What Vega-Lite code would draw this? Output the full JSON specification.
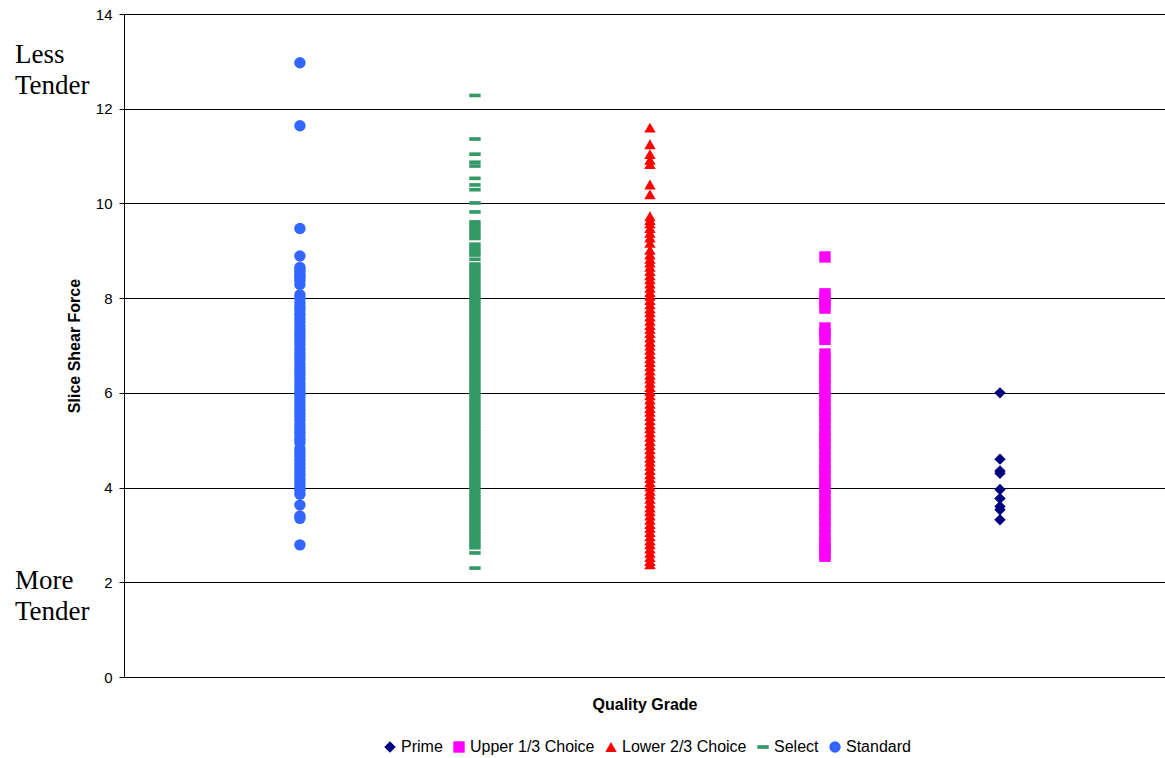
{
  "$schema": "https://vega.github.io/schema/vega-lite/v6.json",
  "width": 1041,
  "height": 663,
  "autosize": "none",
  "padding": {"left": 124, "top": 14, "right": 0, "bottom": 81},
  "background": "white",
  "config": {
    "view": {"stroke": null},
    "font": "Liberation Sans",
    "axis": {"labelFont": "Liberation Sans", "titleFont": "Liberation Sans", "domainColor": "black", "tickColor": "black", "gridColor": "black", "gridOpacity": 1, "domainWidth": 1, "gridWidth": 1},
    "legend": {"padding": 0}
  },
  "layer": [
    {
      "data": {
        "values": [
          {"g": "Prime", "v": 6.0}, {"g": "Prime", "v": 4.6}, {"g": "Prime", "v": 4.35}, {"g": "Prime", "v": 4.3}, {"g": "Prime", "v": 3.96}, {"g": "Prime", "v": 3.77}, {"g": "Prime", "v": 3.6}, {"g": "Prime", "v": 3.53}, {"g": "Prime", "v": 3.32},
          {"g": "Upper 1/3 Choice", "v": 8.87}, {"g": "Upper 1/3 Choice", "v": 8.09}, {"g": "Upper 1/3 Choice", "v": 7.99}, {"g": "Upper 1/3 Choice", "v": 7.89}, {"g": "Upper 1/3 Choice", "v": 7.79},
          {"g": "Upper 1/3 Choice", "v": 7.37}, {"g": "Upper 1/3 Choice", "v": 7.25}, {"g": "Upper 1/3 Choice", "v": 7.13},
          {"g": "Upper 1/3 Choice", "v": 6.82}, {"g": "Upper 1/3 Choice", "v": 6.7}, {"g": "Upper 1/3 Choice", "v": 6.57}, {"g": "Upper 1/3 Choice", "v": 6.44}, {"g": "Upper 1/3 Choice", "v": 6.3}, {"g": "Upper 1/3 Choice", "v": 6.17}, {"g": "Upper 1/3 Choice", "v": 6.03}, {"g": "Upper 1/3 Choice", "v": 5.9}, {"g": "Upper 1/3 Choice", "v": 5.75}, {"g": "Upper 1/3 Choice", "v": 5.62}, {"g": "Upper 1/3 Choice", "v": 5.48}, {"g": "Upper 1/3 Choice", "v": 5.35}, {"g": "Upper 1/3 Choice", "v": 5.2}, {"g": "Upper 1/3 Choice", "v": 5.07}, {"g": "Upper 1/3 Choice", "v": 4.93}, {"g": "Upper 1/3 Choice", "v": 4.8}, {"g": "Upper 1/3 Choice", "v": 4.65}, {"g": "Upper 1/3 Choice", "v": 4.52}, {"g": "Upper 1/3 Choice", "v": 4.38}, {"g": "Upper 1/3 Choice", "v": 4.25}, {"g": "Upper 1/3 Choice", "v": 4.1}, {"g": "Upper 1/3 Choice", "v": 3.97}, {"g": "Upper 1/3 Choice", "v": 3.83}, {"g": "Upper 1/3 Choice", "v": 3.7}, {"g": "Upper 1/3 Choice", "v": 3.55}, {"g": "Upper 1/3 Choice", "v": 3.42}, {"g": "Upper 1/3 Choice", "v": 3.28}, {"g": "Upper 1/3 Choice", "v": 3.15}, {"g": "Upper 1/3 Choice", "v": 3.0}, {"g": "Upper 1/3 Choice", "v": 2.87}, {"g": "Upper 1/3 Choice", "v": 2.73}, {"g": "Upper 1/3 Choice", "v": 2.62}, {"g": "Upper 1/3 Choice", "v": 2.55},
          {"g": "Lower 2/3 Choice", "v": 11.6}, {"g": "Lower 2/3 Choice", "v": 11.25}, {"g": "Lower 2/3 Choice", "v": 11.04}, {"g": "Lower 2/3 Choice", "v": 10.92}, {"g": "Lower 2/3 Choice", "v": 10.83}, {"g": "Lower 2/3 Choice", "v": 10.4}, {"g": "Lower 2/3 Choice", "v": 10.19}, {"g": "Lower 2/3 Choice", "v": 9.73}, {"g": "Lower 2/3 Choice", "v": 9.65}, {"g": "Lower 2/3 Choice", "v": 9.58}, {"g": "Lower 2/3 Choice", "v": 9.48}, {"g": "Lower 2/3 Choice", "v": 9.38}, {"g": "Lower 2/3 Choice", "v": 9.28}, {"g": "Lower 2/3 Choice", "v": 9.17}, {"g": "Lower 2/3 Choice", "v": 9.02},
          {"g": "Lower 2/3 Choice", "v": 8.92}, {"g": "Lower 2/3 Choice", "v": 8.83}, {"g": "Lower 2/3 Choice", "v": 8.75}, {"g": "Lower 2/3 Choice", "v": 8.66}, {"g": "Lower 2/3 Choice", "v": 8.57}, {"g": "Lower 2/3 Choice", "v": 8.48}, {"g": "Lower 2/3 Choice", "v": 8.4}, {"g": "Lower 2/3 Choice", "v": 8.31}, {"g": "Lower 2/3 Choice", "v": 8.22}, {"g": "Lower 2/3 Choice", "v": 8.13}, {"g": "Lower 2/3 Choice", "v": 8.05}, {"g": "Lower 2/3 Choice", "v": 7.96}, {"g": "Lower 2/3 Choice", "v": 7.87}, {"g": "Lower 2/3 Choice", "v": 7.78}, {"g": "Lower 2/3 Choice", "v": 7.7}, {"g": "Lower 2/3 Choice", "v": 7.61}, {"g": "Lower 2/3 Choice", "v": 7.52}, {"g": "Lower 2/3 Choice", "v": 7.43}, {"g": "Lower 2/3 Choice", "v": 7.35}, {"g": "Lower 2/3 Choice", "v": 7.26}, {"g": "Lower 2/3 Choice", "v": 7.17}, {"g": "Lower 2/3 Choice", "v": 7.08}, {"g": "Lower 2/3 Choice", "v": 7.0}, {"g": "Lower 2/3 Choice", "v": 6.91}, {"g": "Lower 2/3 Choice", "v": 6.82}, {"g": "Lower 2/3 Choice", "v": 6.73}, {"g": "Lower 2/3 Choice", "v": 6.65}, {"g": "Lower 2/3 Choice", "v": 6.56}, {"g": "Lower 2/3 Choice", "v": 6.47}, {"g": "Lower 2/3 Choice", "v": 6.38}, {"g": "Lower 2/3 Choice", "v": 6.3}, {"g": "Lower 2/3 Choice", "v": 6.21}, {"g": "Lower 2/3 Choice", "v": 6.12}, {"g": "Lower 2/3 Choice", "v": 6.03}, {"g": "Lower 2/3 Choice", "v": 5.95}, {"g": "Lower 2/3 Choice", "v": 5.86}, {"g": "Lower 2/3 Choice", "v": 5.77}, {"g": "Lower 2/3 Choice", "v": 5.68}, {"g": "Lower 2/3 Choice", "v": 5.6}, {"g": "Lower 2/3 Choice", "v": 5.51}, {"g": "Lower 2/3 Choice", "v": 5.42}, {"g": "Lower 2/3 Choice", "v": 5.33}, {"g": "Lower 2/3 Choice", "v": 5.25}, {"g": "Lower 2/3 Choice", "v": 5.16}, {"g": "Lower 2/3 Choice", "v": 5.07}, {"g": "Lower 2/3 Choice", "v": 4.98}, {"g": "Lower 2/3 Choice", "v": 4.9}, {"g": "Lower 2/3 Choice", "v": 4.81}, {"g": "Lower 2/3 Choice", "v": 4.72}, {"g": "Lower 2/3 Choice", "v": 4.63}, {"g": "Lower 2/3 Choice", "v": 4.55}, {"g": "Lower 2/3 Choice", "v": 4.46}, {"g": "Lower 2/3 Choice", "v": 4.37}, {"g": "Lower 2/3 Choice", "v": 4.28}, {"g": "Lower 2/3 Choice", "v": 4.2}, {"g": "Lower 2/3 Choice", "v": 4.11}, {"g": "Lower 2/3 Choice", "v": 4.02}, {"g": "Lower 2/3 Choice", "v": 3.93}, {"g": "Lower 2/3 Choice", "v": 3.85}, {"g": "Lower 2/3 Choice", "v": 3.76}, {"g": "Lower 2/3 Choice", "v": 3.67}, {"g": "Lower 2/3 Choice", "v": 3.58}, {"g": "Lower 2/3 Choice", "v": 3.5}, {"g": "Lower 2/3 Choice", "v": 3.41}, {"g": "Lower 2/3 Choice", "v": 3.32}, {"g": "Lower 2/3 Choice", "v": 3.23}, {"g": "Lower 2/3 Choice", "v": 3.15}, {"g": "Lower 2/3 Choice", "v": 3.06}, {"g": "Lower 2/3 Choice", "v": 2.97}, {"g": "Lower 2/3 Choice", "v": 2.88}, {"g": "Lower 2/3 Choice", "v": 2.8}, {"g": "Lower 2/3 Choice", "v": 2.71}, {"g": "Lower 2/3 Choice", "v": 2.62}, {"g": "Lower 2/3 Choice", "v": 2.53}, {"g": "Lower 2/3 Choice", "v": 2.45}, {"g": "Lower 2/3 Choice", "v": 2.38},
          {"g": "Select", "v": 12.28}, {"g": "Select", "v": 11.36}, {"g": "Select", "v": 11.04}, {"g": "Select", "v": 10.87}, {"g": "Select", "v": 10.79}, {"g": "Select", "v": 10.53}, {"g": "Select", "v": 10.39}, {"g": "Select", "v": 10.29}, {"g": "Select", "v": 10.01}, {"g": "Select", "v": 9.82},
          {"g": "Select", "v": 9.61}, {"g": "Select", "v": 9.55}, {"g": "Select", "v": 9.49}, {"g": "Select", "v": 9.43}, {"g": "Select", "v": 9.37}, {"g": "Select", "v": 9.31}, {"g": "Select", "v": 9.26},
          {"g": "Select", "v": 9.14}, {"g": "Select", "v": 9.08}, {"g": "Select", "v": 9.02}, {"g": "Select", "v": 8.96}, {"g": "Select", "v": 8.91}, {"g": "Select", "v": 8.82},
          {"g": "Select", "v": 8.72}, {"g": "Select", "v": 8.66}, {"g": "Select", "v": 8.6}, {"g": "Select", "v": 8.54}, {"g": "Select", "v": 8.48}, {"g": "Select", "v": 8.42}, {"g": "Select", "v": 8.36}, {"g": "Select", "v": 8.3}, {"g": "Select", "v": 8.24}, {"g": "Select", "v": 8.18}, {"g": "Select", "v": 8.12}, {"g": "Select", "v": 8.06}, {"g": "Select", "v": 8.0}, {"g": "Select", "v": 7.94}, {"g": "Select", "v": 7.88}, {"g": "Select", "v": 7.82}, {"g": "Select", "v": 7.76}, {"g": "Select", "v": 7.7}, {"g": "Select", "v": 7.64}, {"g": "Select", "v": 7.58}, {"g": "Select", "v": 7.52}, {"g": "Select", "v": 7.46}, {"g": "Select", "v": 7.4}, {"g": "Select", "v": 7.34}, {"g": "Select", "v": 7.28}, {"g": "Select", "v": 7.22}, {"g": "Select", "v": 7.16}, {"g": "Select", "v": 7.1}, {"g": "Select", "v": 7.04}, {"g": "Select", "v": 6.98}, {"g": "Select", "v": 6.92}, {"g": "Select", "v": 6.86}, {"g": "Select", "v": 6.8}, {"g": "Select", "v": 6.74}, {"g": "Select", "v": 6.68}, {"g": "Select", "v": 6.62}, {"g": "Select", "v": 6.56}, {"g": "Select", "v": 6.5}, {"g": "Select", "v": 6.44}, {"g": "Select", "v": 6.38}, {"g": "Select", "v": 6.32}, {"g": "Select", "v": 6.26}, {"g": "Select", "v": 6.2}, {"g": "Select", "v": 6.14}, {"g": "Select", "v": 6.08}, {"g": "Select", "v": 6.02}, {"g": "Select", "v": 5.96}, {"g": "Select", "v": 5.9}, {"g": "Select", "v": 5.84}, {"g": "Select", "v": 5.78}, {"g": "Select", "v": 5.72}, {"g": "Select", "v": 5.66}, {"g": "Select", "v": 5.6}, {"g": "Select", "v": 5.54}, {"g": "Select", "v": 5.48}, {"g": "Select", "v": 5.42}, {"g": "Select", "v": 5.36}, {"g": "Select", "v": 5.3}, {"g": "Select", "v": 5.24}, {"g": "Select", "v": 5.18}, {"g": "Select", "v": 5.12}, {"g": "Select", "v": 5.06}, {"g": "Select", "v": 5.0}, {"g": "Select", "v": 4.94}, {"g": "Select", "v": 4.88}, {"g": "Select", "v": 4.82}, {"g": "Select", "v": 4.76}, {"g": "Select", "v": 4.7}, {"g": "Select", "v": 4.64}, {"g": "Select", "v": 4.58}, {"g": "Select", "v": 4.52}, {"g": "Select", "v": 4.46}, {"g": "Select", "v": 4.4}, {"g": "Select", "v": 4.34}, {"g": "Select", "v": 4.28}, {"g": "Select", "v": 4.22}, {"g": "Select", "v": 4.16}, {"g": "Select", "v": 4.1}, {"g": "Select", "v": 4.04}, {"g": "Select", "v": 3.98}, {"g": "Select", "v": 3.92}, {"g": "Select", "v": 3.86}, {"g": "Select", "v": 3.8}, {"g": "Select", "v": 3.74}, {"g": "Select", "v": 3.68}, {"g": "Select", "v": 3.62}, {"g": "Select", "v": 3.56}, {"g": "Select", "v": 3.5}, {"g": "Select", "v": 3.44}, {"g": "Select", "v": 3.38}, {"g": "Select", "v": 3.32}, {"g": "Select", "v": 3.26}, {"g": "Select", "v": 3.2}, {"g": "Select", "v": 3.14}, {"g": "Select", "v": 3.08}, {"g": "Select", "v": 3.02}, {"g": "Select", "v": 2.96}, {"g": "Select", "v": 2.9}, {"g": "Select", "v": 2.84}, {"g": "Select", "v": 2.78}, {"g": "Select", "v": 2.73}, {"g": "Select", "v": 2.62}, {"g": "Select", "v": 2.3},
          {"g": "Standard", "v": 12.97}, {"g": "Standard", "v": 11.64}, {"g": "Standard", "v": 9.47}, {"g": "Standard", "v": 8.89}, {"g": "Standard", "v": 8.65}, {"g": "Standard", "v": 8.6}, {"g": "Standard", "v": 8.55}, {"g": "Standard", "v": 8.49}, {"g": "Standard", "v": 8.44}, {"g": "Standard", "v": 8.38}, {"g": "Standard", "v": 8.29}, {"g": "Standard", "v": 8.07}, {"g": "Standard", "v": 8.0}, {"g": "Standard", "v": 7.9}, {"g": "Standard", "v": 7.82}, {"g": "Standard", "v": 7.75}, {"g": "Standard", "v": 7.66}, {"g": "Standard", "v": 7.58}, {"g": "Standard", "v": 7.5}, {"g": "Standard", "v": 7.41}, {"g": "Standard", "v": 7.33}, {"g": "Standard", "v": 7.25}, {"g": "Standard", "v": 7.18}, {"g": "Standard", "v": 7.1}, {"g": "Standard", "v": 7.02}, {"g": "Standard", "v": 6.93}, {"g": "Standard", "v": 6.85}, {"g": "Standard", "v": 6.77}, {"g": "Standard", "v": 6.7}, {"g": "Standard", "v": 6.61}, {"g": "Standard", "v": 6.53}, {"g": "Standard", "v": 6.45}, {"g": "Standard", "v": 6.38}, {"g": "Standard", "v": 6.3}, {"g": "Standard", "v": 6.21}, {"g": "Standard", "v": 6.13}, {"g": "Standard", "v": 6.05}, {"g": "Standard", "v": 5.97}, {"g": "Standard", "v": 5.9}, {"g": "Standard", "v": 5.82}, {"g": "Standard", "v": 5.73}, {"g": "Standard", "v": 5.65}, {"g": "Standard", "v": 5.57}, {"g": "Standard", "v": 5.5}, {"g": "Standard", "v": 5.42}, {"g": "Standard", "v": 5.33}, {"g": "Standard", "v": 5.25}, {"g": "Standard", "v": 5.17}, {"g": "Standard", "v": 5.1}, {"g": "Standard", "v": 5.02}, {"g": "Standard", "v": 4.95}, {"g": "Standard", "v": 4.82}, {"g": "Standard", "v": 4.74}, {"g": "Standard", "v": 4.66}, {"g": "Standard", "v": 4.58}, {"g": "Standard", "v": 4.5}, {"g": "Standard", "v": 4.42}, {"g": "Standard", "v": 4.34}, {"g": "Standard", "v": 4.26}, {"g": "Standard", "v": 4.18}, {"g": "Standard", "v": 4.1}, {"g": "Standard", "v": 4.02}, {"g": "Standard", "v": 3.95}, {"g": "Standard", "v": 3.86}, {"g": "Standard", "v": 3.63}, {"g": "Standard", "v": 3.4}, {"g": "Standard", "v": 3.35}, {"g": "Standard", "v": 2.79}
        ]
      },
      "mark": {"type": "point", "filled": true, "opacity": 1, "size": 130, "strokeWidth": 0},
      "encoding": {
        "x": {
          "field": "g", "type": "nominal",
          "scale": {"type": "point", "domain": ["Standard", "Select", "Lower 2/3 Choice", "Upper 1/3 Choice", "Prime"], "padding": 0.974, "align": 0.516},
          "axis": {"title": "Quality Grade", "labels": false, "ticks": false, "grid": false, "titleFontSize": 16, "titleFontWeight": "bold", "titlePadding": 19, "titleColor": "black"}
        },
        "y": {
          "field": "v", "type": "quantitative",
          "scale": {"domain": [0, 14], "nice": false, "zero": true},
          "axis": {"title": "Slice Shear Force", "values": [0, 2, 4, 6, 8, 10, 12, 14], "tickSize": 5, "labelPadding": 7, "labelFontSize": 15, "labelColor": "black", "titleFontSize": 16, "titleFontWeight": "bold", "titlePadding": 13, "titleColor": "black", "grid": true}
        },
        "color": {
          "field": "g", "type": "nominal",
          "scale": {"domain": ["Prime", "Upper 1/3 Choice", "Lower 2/3 Choice", "Select", "Standard"], "range": ["#000080", "#FF00FF", "#FF0000", "#339966", "#3366FF"]},
          "legend": {"title": null, "orient": "none", "direction": "horizontal", "legendX": 258, "legendY": 725, "labelFontSize": 16, "labelColor": "black", "labelOffset": 3, "columnPadding": 8, "symbolSize": 130, "symbolStrokeWidth": 0, "symbolOpacity": 1}
        },
        "shape": {
          "field": "g", "type": "nominal",
          "scale": {"domain": ["Prime", "Upper 1/3 Choice", "Lower 2/3 Choice", "Select", "Standard"], "range": ["diamond", "square", "triangle-up", "M-1,-0.32L1,-0.32L1,0.32L-1,0.32Z", "circle"]},
          "legend": {"title": null, "orient": "none", "direction": "horizontal", "legendX": 258, "legendY": 725, "labelFontSize": 16, "labelColor": "black", "labelOffset": 3, "columnPadding": 8, "symbolSize": 130, "symbolStrokeWidth": 0, "symbolOpacity": 1}
        }
      }
    },
    {
      "data": {"values": [{}]},
      "mark": {"type": "text", "font": "Liberation Serif", "fontSize": 27, "align": "left", "baseline": "alphabetic", "lineHeight": 31, "color": "black"},
      "encoding": {
        "x": {"datum": -0.1047, "type": "quantitative", "scale": {"domain": [0, 1]}, "axis": null},
        "y": {"datum": 12.96, "type": "quantitative"},
        "text": {"value": ["Less", "Tender"]}
      }
    },
    {
      "data": {"values": [{}]},
      "mark": {"type": "text", "font": "Liberation Serif", "fontSize": 27, "align": "left", "baseline": "alphabetic", "lineHeight": 31, "color": "black"},
      "encoding": {
        "x": {"datum": -0.1047, "type": "quantitative", "scale": {"domain": [0, 1]}, "axis": null},
        "y": {"datum": 1.85, "type": "quantitative"},
        "text": {"value": ["More", "Tender"]}
      }
    }
  ],
  "resolve": {"scale": {"x": "independent"}}
}
